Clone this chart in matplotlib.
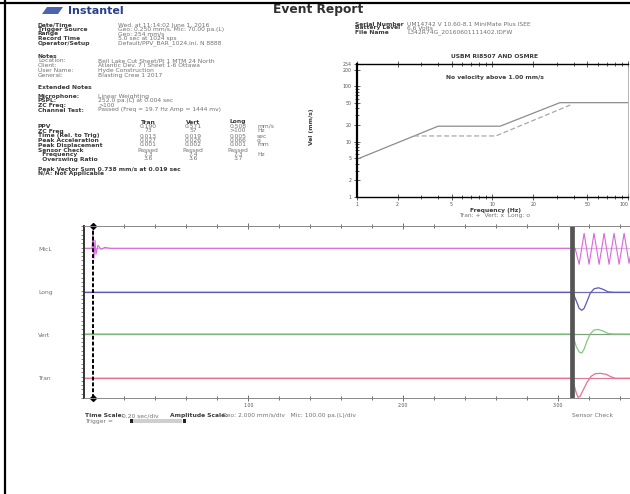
import matplotlib
matplotlib.use("Agg")
import matplotlib.pyplot as plt
from matplotlib.lines import Line2D
from matplotlib.patches import Polygon, Rectangle
from matplotlib.ticker import FixedLocator, MultipleLocator, NullFormatter, LogLocator

# ---------------- data ----------------
header_labels = ["Date/Time", "Trigger Source", "Range", "Record Time", "Operator/Setup"]
header_values = ["Wed. at 11:14:02 June 1, 2016",
                 "Geo: 0.250 mm/s, Mic: 70.00 pa.(L)",
                 "Geo: 254 mm/s",
                 "5.0 sec at 1024 sps",
                 "Default/PPV_BAR_1024.ini, N 8888"]
right_labels = ["Serial Number", "Battery Level", "File Name"]
right_values = ["UM14742 V 10.60-8.1 MiniMate Plus ISEE",
                "6.6 Volts",
                "L342R74G_20160601111402.IDFW"]
notes_labels = ["Location:", "Client:", "User Name:", "General:"]
notes_values = ["Bell Lake Cut Sheet/Pt 1 MTM 24 North",
                "Atlantic Dev. 7 I Sheet 1-6 Ottawa",
                "Hyde Construction",
                "Blasting Crew 1 2017"]
ext_labels = ["Microphone:", "PSPL:", "ZC Freq:", "Channel Test:"]
ext_values = ["Linear Weighting",
              "252.0 pa.(L) at 0.004 sec",
              ">100",
              "Passed (Freq = 19.7 Hz Amp = 1444 mv)"]
table_channels = ["Tran", "Vert", "Long"]
table_rows = ["PPV", "ZC Freq", "Time (Rel. to Trig)", "Peak Acceleration",
              "Peak Displacement", "Sensor Check", "  Frequency", "  Overswing Ratio"]
table_tran = ["0.190", "73", "0.013", "0.027", "0.001", "Passed", "7.3", "3.6"]
table_vert = ["0.571", "57", "0.019", "0.026", "0.002", "Passed", "7.4", "3.6"]
table_long = ["0.508", ">100", "0.005", "0.066", "0.001", "Passed", "7.3", "3.7"]
table_units = ["mm/s", "Hz", "sec", "g", "mm", "", "Hz", ""]
pvs_text = "Peak Vector Sum 0.738 mm/s at 0.019 sec"
na_text = "N/A: Not Applicable"

# USBM RI8507 / OSMRE curves (Hz, mm/s)
drywall_freq = [1.0, 3.98, 11.4, 31.5, 100.0]
drywall_vel = [4.8, 19.05, 19.05, 50.8, 50.8]
plaster_freq = [2.65, 10.6, 37.5]
plaster_vel = [12.7, 12.7, 46.0]
freq_ticks = [1, 2, 5, 10, 20, 50, 100]
vel_ticks = [1, 2, 5, 10, 20, 50, 100, 200, 254]

# waveform channels
channel_names = ["MicL", "Long", "Vert", "Tran"]
time_ticks = [1.0, 2.0, 3.0]
time_tick_labels = ["1.00", "2.00", "3.00"]
mic_t = [-0.06, -0.008, -0.002, 0.0045, 0.011, 0.017, 0.030, 0.050, 0.075, 0.108,
         3.075, 3.108, 3.134, 3.166, 3.198, 3.230, 3.263, 3.295, 3.327, 3.359,
         3.392, 3.424, 3.456, 3.488]
mic_v = [0, 0, 18, -10, 8, -6, 3, -1, 1, 0,
         0, 0, -16, 15, -16, 15, -16, 15, -16, 15, -16, 15, -15, 14]
geo_t = [-0.06, 3.075, 3.095, 3.114, 3.134, 3.151, 3.166, 3.185, 3.205, 3.230,
         3.259, 3.288, 3.320, 3.352, 3.47]
long_v = [0, 0, -1, -8, -16, -18, -16, -9, -1, 3.5, 4.5, 3, 0.5, 0, 0]
vert_v = [0, 0, -2, -12, -18, -19, -15, -7, 0, 4, 4.5, 3, 0.5, 0, 0]
tran_t = [-0.06, 3.075, 3.095, 3.114, 3.127, 3.140, 3.159, 3.185, 3.211, 3.237,
          3.269, 3.308, 3.333, 3.366, 3.47]
tran_v = [0, 0, -3, -14, -19, -18, -12, -4, 2, 4.5, 5, 4, 2, 0, 0]
sensor_check_time = 3.088

# ---------------- layout ----------------
W, H = 630, 494
fig = plt.figure(figsize=(W / 100, H / 100), dpi=100)
fig.patch.set_facecolor("white")


def fx(px):
    return px / W


def fy(py):
    return 1 - py / H


def T(px, py, s, **kw):
    kw.setdefault("va", "center")
    kw.setdefault("fontsize", 4.3)
    fig.text(fx(px), fy(py), s, **kw)


LAB = dict(color="#3a3a3a", fontweight="bold")
VAL = dict(color="#707070")

# page frame
fig.add_artist(Line2D([0, 1], [fy(3.5), fy(3.5)], transform=fig.transFigure, color="black", lw=1.6))
fig.add_artist(Line2D([fx(5), fx(5)], [0, 1], transform=fig.transFigure, color="black", lw=1.6))

# logo + title
fig.add_artist(Polygon([(fx(42), fy(14)), (fx(47), fy(7)), (fx(63), fy(7)), (fx(58), fy(14))],
                       closed=True, transform=fig.transFigure, facecolor="#4a64b0", edgecolor="none"))
T(68, 10.5, "Instantel", fontsize=8, fontweight="bold", color="#2c3f8c")
T(273, 9.5, "Event Report", fontsize=8.8, fontweight="bold", color="#303030")

# header block
for i, (lab, val) in enumerate(zip(header_labels, header_values)):
    y = [25, 29.5, 34, 38.5, 43][i]
    T(38, y, lab, **LAB)
    T(118, y, val, **VAL)
for i, (lab, val) in enumerate(zip(right_labels, right_values)):
    y = [24, 28, 32][i]
    T(355, y, lab, **LAB)
    T(407, y, val, **VAL)

T(38, 56, "Notes", **LAB)
for i, (lab, val) in enumerate(zip(notes_labels, notes_values)):
    y = [61, 65.5, 70.5, 75.5][i]
    T(38, y, lab, **VAL)
    T(98, y, val, **VAL)

T(38, 87, "Extended Notes", **LAB)
for i, (lab, val) in enumerate(zip(ext_labels, ext_values)):
    y = [96, 100.5, 105, 110][i]
    T(38, y, lab, **LAB)
    T(98, y, val, **VAL)

for ch, cx in zip(table_channels, [148, 193, 238]):
    T(cx, 122, ch, ha="center", **LAB)
row_y = [126.5, 131, 136, 140.5, 145, 150, 154.5, 159]
for i, name in enumerate(table_rows):
    y = row_y[i]
    T(38, y, name, **LAB)
    T(148, y, table_tran[i], ha="center", **VAL)
    T(193, y, table_vert[i], ha="center", **VAL)
    T(238, y, table_long[i], ha="center", **VAL)
    T(257, y, table_units[i], **VAL)
T(38, 168.5, pvs_text, **LAB)
T(38, 173, na_text, **LAB)

# ---------------- frequency graph ----------------
ax = fig.add_axes([fx(356.7), fy(197), (628 - 356.7) / W, (197 - 64) / H])
ax.set_xscale("log")
ax.set_yscale("log")
ax.plot(drywall_freq, drywall_vel, color="#8c8c8c", lw=0.9)
ax.plot(plaster_freq, plaster_vel, color="#a8a8a8", lw=0.9, ls=(0, (4, 2)))
ax.set_xlim(1, 100)
ax.set_ylim(1, 254)
ax.xaxis.set_major_locator(FixedLocator(freq_ticks))
ax.set_xticklabels([str(v) for v in freq_ticks])
ax.get_xticklabels()[-1].set_ha("right")
ax.xaxis.set_minor_locator(LogLocator(base=10, subs=range(2, 10)))
ax.xaxis.set_minor_formatter(NullFormatter())
ax.yaxis.set_major_locator(FixedLocator(vel_ticks))
ax.set_yticklabels([str(v) for v in vel_ticks])
ax.yaxis.set_minor_locator(LogLocator(base=10, subs=range(2, 10)))
ax.yaxis.set_minor_formatter(NullFormatter())
ax.tick_params(axis="both", which="both", direction="inout", labelsize=3.4,
               labelcolor="#555555", color="#444444", top=True, width=0.6)
ax.tick_params(axis="both", which="major", length=4, pad=1.5)
ax.tick_params(axis="both", which="minor", length=2.5)
ax.spines["left"].set_linewidth(1.6)
ax.spines["bottom"].set_linewidth(1.0)
ax.spines["top"].set_linewidth(1.0)
ax.spines["right"].set_linewidth(0.5)
ax.spines["right"].set_color("#999999")
T(495, 56, "USBM RI8507 AND OSMRE", ha="center", **LAB)
T(495, 77, "No velocity above 1.00 mm/s", ha="center", **LAB)
T(495, 210, "Frequency (Hz)", ha="center", **LAB)
T(495, 215.5, "Tran: +  Vert: x  Long: o", ha="center", **VAL)
T(312, 127, "Vel (mm/s)", ha="center", rotation=90, fontsize=4.3, color="#3a3a3a", fontweight="bold")

# ---------------- waveform pane ----------------
aw = fig.add_axes([fx(84), fy(398), (W - 84) / W, (398 - 226) / H])
aw.set_xlim(-0.06, 3.462)
aw.set_ylim(0, 172)
offsets = [149.7, 105.7, 64, 19.7]
base_cols = ["#e2b4e6", "#6e6eb2", "#7da07d", "#d67f98"]
trace_cols = ["#d868dc", "#5a5ab8", "#80c880", "#e8708c"]
for off, bc in zip(offsets, base_cols):
    aw.axhline(off, color=bc, lw=0.9)
aw.plot(mic_t, [offsets[0] + v for v in mic_v], color=trace_cols[0], lw=0.8)
aw.plot(geo_t, [offsets[1] + v for v in long_v], color=trace_cols[1], lw=0.9)
aw.plot(geo_t, [offsets[2] + v for v in vert_v], color=trace_cols[2], lw=0.9)
aw.plot(tran_t, [offsets[3] + v for v in tran_v], color=trace_cols[3], lw=0.9)
aw.axvline(0, color="black", lw=1.4, ls=(0, (2, 1)))
aw.plot([0, 0], [172, 0], ls="none", marker="D", ms=3, color="black", clip_on=False)
aw.axvline(sensor_check_time, color="#555555", lw=3.4)
aw.xaxis.set_major_locator(FixedLocator(time_ticks))
aw.set_xticklabels(time_tick_labels)
aw.xaxis.set_minor_locator(MultipleLocator(0.2))
aw.yaxis.set_major_locator(MultipleLocator(4.3))
aw.yaxis.set_major_formatter(NullFormatter())
aw.tick_params(axis="x", which="both", direction="inout", top=True, color="#555555",
               labelsize=3.4, labelcolor="#555555", pad=1.5, width=0.6)
aw.tick_params(axis="x", which="major", length=4)
aw.tick_params(axis="x", which="minor", length=3)
aw.tick_params(axis="y", which="both", direction="out", length=2.5, width=0.5, color="#555555")
aw.spines["left"].set_linewidth(1.4)
aw.spines["left"].set_color("#333333")
aw.spines["right"].set_visible(False)
for s in ["top", "bottom"]:
    aw.spines[s].set_linewidth(0.7)
    aw.spines[s].set_color("#888888")
for name, py in zip(channel_names, [249, 292, 335, 378]):
    T(38, py, name, **VAL)

# footer
T(85, 415.5, "Time Scale:", **LAB)
T(122, 415.5, "0.20 sec/div", **VAL)
T(170, 415.5, "Amplitude Scale:", **LAB)
T(222, 415.5, "Geo: 2.000 mm/s/div   Mic: 100.00 pa.(L)/div", **VAL)
T(572, 415.5, "Sensor Check", **VAL)
T(85, 421, "Trigger = ", **VAL)
fig.add_artist(Rectangle((fx(133), fy(423)), fx(182) - fx(133), 4 / H, transform=fig.transFigure,
                         facecolor="#cfcfcf", edgecolor="none"))
fig.add_artist(Rectangle((fx(130), fy(423)), 3 / W, 4 / H, transform=fig.transFigure,
                         facecolor="#222222", edgecolor="none"))
fig.add_artist(Rectangle((fx(183), fy(423)), 3 / W, 4 / H, transform=fig.transFigure,
                         facecolor="#222222", edgecolor="none"))

fig.savefig("out.png", dpi=100, facecolor="white")
